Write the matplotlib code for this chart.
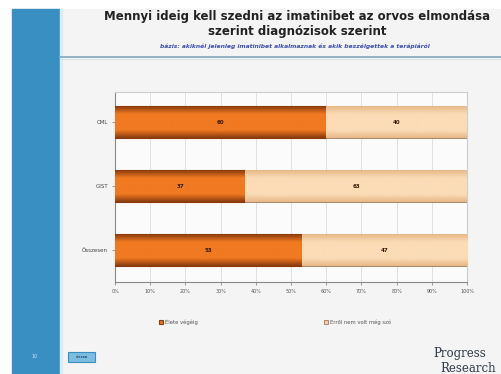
import numpy as np
import matplotlib.pyplot as plt
from matplotlib.patches import Rectangle
from matplotlib.colors import LinearSegmentedColormap

# --- ADATOK ---
categories = ["CML", "GIST", "Összesen"]
elete_vegeig = [60, 37, 53]
nem_volt_szo = [40, 63, 47]
series_names = ["Élete végéig", "Erről nem volt még szó"]
ticks = list(range(0, 101, 10))
tick_labels = [f"{t}%" for t in ticks]

title = "Mennyi ideig kell szedni az imatinibet az orvos elmondása\nszerint diagnózisok szerint"
subtitle = "bázis: akiknél jelenleg imatinibet alkalmaznak és akik beszélgettek a terápiáról"

W, H = 501, 374
fig = plt.figure(figsize=(W / 100, H / 100), dpi=100)
fig.patch.set_facecolor("white")

# háttér, kék csík, fejléc vonal
bg = fig.add_axes([0, 0, 1, 1], zorder=-10)
bg.set_xlim(0, W)
bg.set_ylim(H, 0)
bg.axis("off")
bg.add_patch(Rectangle((60, 9), W - 60, H, color="#f4f4f4"))
bg.add_patch(Rectangle((12, 9), 48, H, color="#3a8fc2"))
bg.add_patch(Rectangle((60, 9), 2, H, color="#dbeef8"))
bg.plot([60, W], [57, 57], color="#7fa6c0", lw=1.2)
bg.plot([60, W], [59, 59], color="#d7e4ec", lw=0.8)
bg.add_patch(Rectangle((68, 352), 27, 10, facecolor="#7dbde0", edgecolor="#3a8fc2", lw=0.8))
bg.text(81.5, 357, "vissza", fontsize=2.5, color="#1f4f7a", ha="center", va="center", weight="bold")
bg.text(35, 356, "10", fontsize=3.5, color="#cfe6f4", ha="center", va="center")
# logó
bg.text(433, 354, "Progress", fontsize=8.5, color="#303a48", family="DejaVu Serif",
        ha="left", va="center")
bg.text(440, 369, "Research", fontsize=8.5, color="#303a48", family="DejaVu Serif",
        ha="left", va="center", clip_on=True)

fig.text(297 / W, 1 - 24 / H, title, ha="center", va="center", fontsize=8.5,
         weight="bold", color="#222222", linespacing=1.2)
fig.text(295 / W, 1 - 46 / H, subtitle, ha="center", va="center", fontsize=4.3,
         style="italic", weight="bold", color="#3a4fb0")

ax = fig.add_axes([115 / W, 1 - 282 / H, 352 / W, 190 / H])
ax.set_facecolor("#fbfbfb")
y = np.arange(len(categories))
b1 = ax.barh(y, elete_vegeig, height=0.5, color="#e8731e", edgecolor="#8a3c10", lw=0.8,
             label=series_names[0], zorder=3)
b2 = ax.barh(y, nem_volt_szo, left=elete_vegeig, height=0.5, color="#f8cfa0",
             edgecolor="#9a7a60", lw=0.6, label=series_names[1], zorder=3)

# színátmenet a sávokon
grad = np.abs(np.linspace(-1, 1, 64)).reshape(-1, 1)
for bars, dark, light in [(b1, "#8a3a0c", "#f07a22"), (b2, "#e8b888", "#fbdcb6")]:
    cmap = LinearSegmentedColormap.from_list("g", [light, light, dark])
    for p in bars:
        x0, y0 = p.get_x(), p.get_y()
        im = ax.imshow(grad, cmap=cmap, aspect="auto", zorder=3.5,
                       extent=[x0, x0 + p.get_width(), y0, y0 + p.get_height()])
        im.set_clip_path(p)

for bars, vals in [(b1, elete_vegeig), (b2, nem_volt_szo)]:
    for p, v in zip(bars, vals):
        ax.text(p.get_x() + p.get_width() / 2, p.get_y() + p.get_height() / 2, str(v),
                ha="center", va="center", fontsize=4, weight="bold", color="#3a1a08", zorder=5)

ax.set_xlim(0, 100)
ax.set_ylim(2.5, -0.47)
ax.set_xticks(ticks)
ax.set_xticklabels(tick_labels, fontsize=3.5, color="#555555")
ax.set_yticks(y)
ax.set_yticklabels(categories, fontsize=4, color="#444444")
ax.tick_params(axis="both", length=2, width=0.6, color="#888888", pad=3)
ax.grid(axis="x", color="#dddddd", lw=0.6, zorder=0)
for s in ["top", "right"]:
    ax.spines[s].set_color("#cccccc")
for s in ["left", "bottom"]:
    ax.spines[s].set_color("#888888")
for s in ax.spines.values():
    s.set_linewidth(0.8)

fig.legend(handles=[b1, b2], labels=series_names, loc="center", ncol=2,
           bbox_to_anchor=(275 / W, 1 - 322 / H), frameon=False, fontsize=3.8,
           handlelength=0.8, handleheight=0.8, columnspacing=24, handletextpad=0.3,
           labelcolor="#555555")

fig.savefig("out.png", dpi=100)
